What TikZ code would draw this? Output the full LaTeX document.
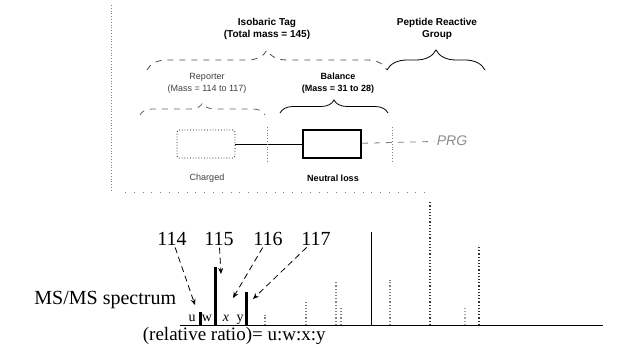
\documentclass[tikz,border=0pt]{standalone}
\usepackage{fontspec}
\setmainfont{Liberation Serif}
\setsansfont{Liberation Sans}
\usetikzlibrary{arrows.meta, decorations.pathreplacing, calc}

\begin{document}
\begin{tikzpicture}[x=0.5pt, y=-0.5pt,
    every node/.style={inner sep=1pt},
    tag/.style={font=\sffamily\bfseries\fontsize{5}{6}\selectfont, align=center},
    part/.style={font=\sffamily\fontsize{4.5}{6}\selectfont, align=center},
    unit/.style={rectangle, minimum width=29pt, minimum height=14pt, inner sep=0pt},
    brc/.style={decorate, decoration={brace, amplitude=#1}, thin},
    cut/.style={densely dotted, thin, gray},
    link/.style={thin},
    mz/.style={font=\fontsize{10}{12}\selectfont, anchor=base},
    lbl/.style={font=\fontsize{7}{8}\selectfont, anchor=base, inner sep=0pt},
    ptr/.style={-{Stealth[length=3pt, width=2.5pt]}, densely dashed, thin},
    peak/.style={line width=1.5pt},
    minor/.style={densely dotted, line width=0.6pt, gray}
  ]
    \useasboundingbox (0,0) rectangle (619,347);

    % frame of the tag panel
    \draw[cut] (111,5) -- (111,192);
    \draw[loosely dotted, gray] (125,192) -- (430,192);

    % tag structure
    \node[tag] (iso) at (267,29) {Isobaric Tag\\(Total mass = 145)};
    \node[tag] (prg) at (437,29) {Peptide Reactive\\Group};
    \node[part, text=black!75] (rep) at (207,83) {Reporter\\(Mass = 114 to 117)};
    \node[part, font=\sffamily\bfseries\fontsize{4.5}{6}\selectfont] (bal) at (338,83) {Balance\\(Mass = 31 to 28)};

    \draw[brc=10pt, dashed, black!70] (147,70) -- (387,70);
    \draw[brc=10pt] (387,70) -- (485,70);
    \draw[brc=6pt, dashed, black!60] (140,115) -- (265,115);
    \draw[brc=6.5pt] (280,113) -- (388,113);

    \node[unit, draw, densely dotted, rounded corners=1pt] (chg) at (206,144) {};
    \node[unit, draw, thick] (neu) at (332,144) {};
    \node[font=\sffamily\itshape\fontsize{7}{8}\selectfont, text=black!45] (prgtxt) at (452,141) {PRG};
    \node[part, text=black!75] (chgtxt) at (207,178) {Charged};
    \node[part, font=\sffamily\bfseries\fontsize{4.5}{6}\selectfont] (neutxt) at (333,178) {Neutral loss};

    \draw[link] (chg) -- (neu);
    \draw[link, dashed, gray] (neu) -- (prgtxt);
    \draw[cut] (267,127) -- (267,162);
    \draw[cut] (392,127) -- (392,162);

    % spectrum
    \node[mz, anchor=base west] (msms) at (32,304) {MS/MS spectrum};
    \node[mz, anchor=base east, font=\fontsize{9.5}{11}\selectfont] (ratio) at (328,340) {(relative ratio)= u:w:x:y};
    \node[mz] (l114) at (172,245) {114};
    \node[mz] (l115) at (219,245) {115};
    \node[mz] (l116) at (268,245) {116};
    \node[mz] (l117) at (316,245) {117};

    \draw[thin] (180,325) -- (603,325);
    \draw[peak] (200,325) -- (200,312);
    \draw[peak] (215,325) -- (215,267);
    \draw[peak] (246,325) -- (246,292);
    \draw[minor] (265,325) -- (265,315);
    \draw[minor] (306,325) -- (306,302);
    \draw[minor] (336,325) -- (336,282);
    \draw[minor] (341,325) -- (341,307);
    \draw[thin] (371,325) -- (371,232);
    \draw[minor] (390,325) -- (390,280);
    \draw[minor, black!80] (430,325) -- (430,202);
    \draw[minor, black!35] (465,325) -- (465,306);
    \draw[minor, black!80] (479,325) -- (479,245);

    \node[lbl] (pu) at (192,321) {u};
    \node[lbl] (pw) at (207,321) {w};
    \node[lbl, font=\itshape\fontsize{7}{8}\selectfont] (px) at (226,321) {x};
    \node[lbl] (py) at (240,321) {y};

    \coordinate (t114) at (195,305);
    \coordinate (t115) at (221,274);
    \coordinate (t116) at (233,298);
    \coordinate (t117) at (253,299);
    \draw[ptr] (l114) -- (t114);
    \draw[ptr] (l115) -- (t115);
    \draw[ptr] (l116) -- (t116);
    \draw[ptr] (l117) -- (t117);
  \end{tikzpicture}
\end{document}
